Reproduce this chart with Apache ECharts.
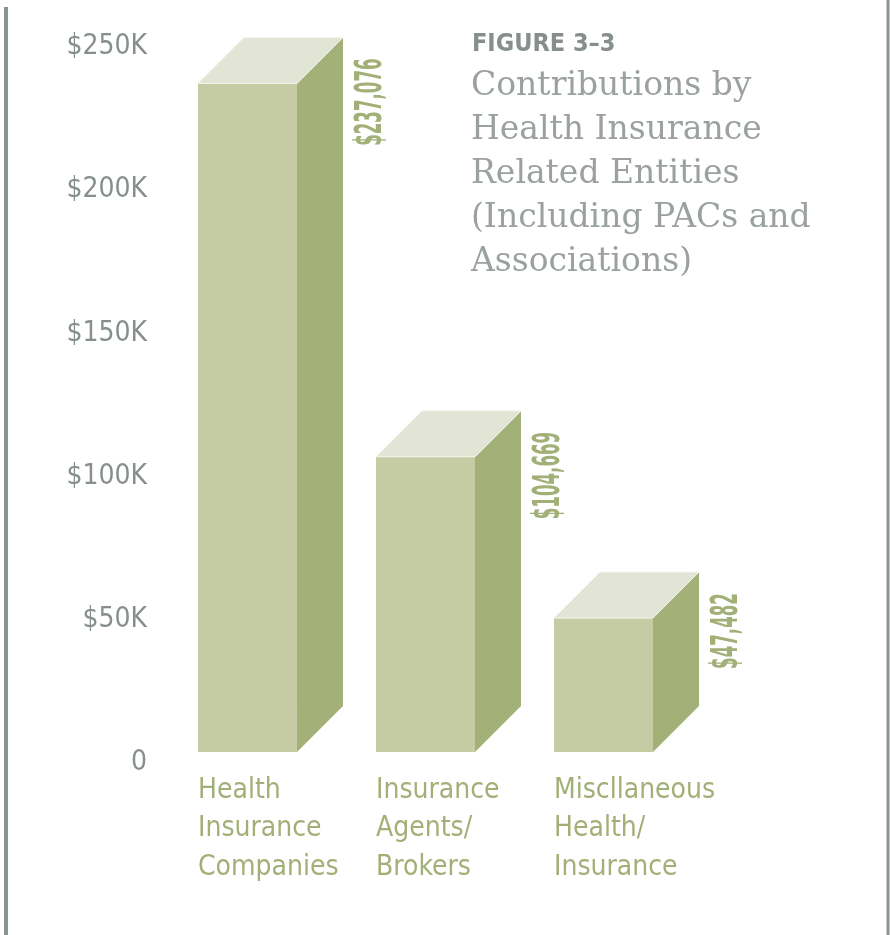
<!DOCTYPE html>
<html>
<head>
<meta charset="utf-8">
<script src="https://cdn.jsdelivr.net/npm/echarts@6/dist/echarts.min.js"></script>
<style>
html,body{margin:0;padding:0;background:#fff;}
#chart{width:890px;height:935px;}
</style>
</head>
<body>
<div id="chart"></div>
<script>
// ---- data ----
const categories = ['Health\nInsurance\nCompanies', 'Insurance\nAgents/\nBrokers', 'Miscllaneous\nHealth/\nInsurance'];
const values = [237076, 104669, 47482];
const valueLabels = ['$237,076', '$104,669', '$47,482'];
const yTickLabels = ['0', '$50K', '$100K', '$150K', '$200K', '$250K'];
const titleKicker = 'FIGURE 3–3';
const titleLines = ['Contributions by', 'Health Insurance', 'Related Entities', '(Including PACs and', 'Associations)'];

// ---- styles ----
const FRONT = '#c5cba2', SIDE = '#a3b078', TOP = '#e2e4d5';
const GREEN_TEXT = '#a2b077', GRAY_TEXT = '#868f8b', LINE_GRAY = '#89938f';
const COND = '"DejaVu Sans Condensed", "Liberation Sans Narrow", "Roboto Condensed", sans-serif';

const chart = echarts.init(document.getElementById('chart'), null, {renderer: 'canvas'});

function renderBar(params, api) {
  const idx = api.value(0);
  const v = api.value(1);
  const top = api.coord([idx, v]);
  const base = api.coord([idx, 0]);
  const band = api.size([1, 0])[0];
  const w = band * 0.556;
  const d = 46;
  const x0 = top[0] - w / 2, x1 = top[0] + w / 2;
  const yT = top[1], yB = base[1];
  return {
    type: 'group',
    children: [
      {type: 'rect', shape: {x: x0, y: yT, width: w, height: yB - yT}, style: {fill: FRONT}},
      {type: 'polygon', shape: {points: [[x1, yT], [x1 + d, yT - d], [x1 + d, yB - d], [x1, yB]]}, style: {fill: SIDE}},
      {type: 'polygon', shape: {points: [[x0, yT], [x0 + d, yT - d], [x1 + d, yT - d], [x1, yT]]}, style: {fill: TOP, stroke: '#f3f4ec', lineWidth: 1}},
      {type: 'text', x: x1 + d + 28, y: yT - d + 21, rotation: Math.PI / 2, scaleX: 0.5,
        style: {text: valueLabels[params.dataIndex], fill: GREEN_TEXT, font: 'bold 37px ' + COND, align: 'right', verticalAlign: 'middle'}}
    ]
  };
}

const option = {
  backgroundColor: '#fff',
  animation: false,
  grid: [
    {left: 158.5, width: 534, top: 47, bottom: 183},   // bars
    {left: 158, width: 534, top: 47, bottom: 172},     // y labels
    {left: 109, width: 534, top: 47, bottom: 183}      // x labels
  ],
  xAxis: [
    {gridIndex: 0, type: 'category', data: categories, show: false},
    {gridIndex: 1, type: 'category', data: categories, show: false},
    {gridIndex: 2, type: 'category', data: categories,
      axisLine: {show: false}, axisTick: {show: false},
      axisLabel: {interval: 0, hideOverlap: false, align: 'left', margin: 19, color: GREEN_TEXT, fontFamily: COND,
        fontSize: 28, lineHeight: 38.5, verticalAlign: 'top'}}
  ],
  yAxis: [
    {gridIndex: 0, type: 'value', min: 0, max: 250000, interval: 50000, show: false},
    {gridIndex: 1, type: 'value', min: 0, max: 250000, interval: 50000,
      axisLine: {show: false}, axisTick: {show: false}, splitLine: {show: false},
      axisLabel: {margin: 11, color: GRAY_TEXT, fontFamily: COND, fontSize: 28,
        formatter: function (v) { return yTickLabels[Math.round(v / 50000)]; }}},
    {gridIndex: 2, type: 'value', min: 0, max: 250000, interval: 50000, show: false}
  ],
  graphic: [
    {type: 'line', shape: {x1: 6, y1: 7, x2: 6, y2: 935}, style: {stroke: LINE_GRAY, lineWidth: 4}},
    {type: 'line', shape: {x1: 888, y1: 0, x2: 888, y2: 935}, style: {stroke: LINE_GRAY, lineWidth: 3}},
    {type: 'text', left: 472, top: 32, style: {text: titleKicker, fill: GRAY_TEXT, font: 'bold 25px ' + COND}},
    {type: 'text', left: 471, top: 64,
      style: {text: titleLines.join('\n'), fill: '#9aa19e', font: '33px "DejaVu Serif", serif', lineHeight: 44}}
  ],
  series: [{
    type: 'custom',
    xAxisIndex: 0, yAxisIndex: 0,
    renderItem: renderBar,
    data: values.map((v, i) => [i, v]),
    z: 2
  }]
};
chart.setOption(option);
</script>
</body>
</html>
